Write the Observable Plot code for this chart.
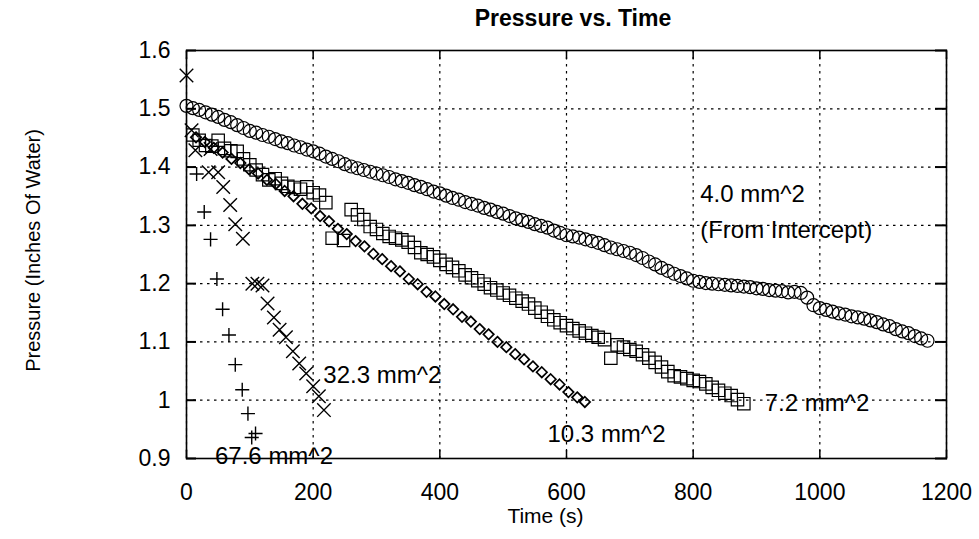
<!DOCTYPE html>
<html><head><meta charset="utf-8">
<script src="https://cdn.jsdelivr.net/npm/d3@7"></script>
<script src="https://cdn.jsdelivr.net/npm/@observablehq/plot@0.6"></script>
<style>
body{margin:0;background:#fff;}
#wrap{position:relative;width:979px;height:539px;}
#title{position:absolute;left:423px;top:4px;width:300px;text-align:center;font:bold 23px 'Liberation Sans',Arial,sans-serif;line-height:28px;color:#000;}
#chart [aria-label$="tick label"] text{font-size:23px !important;}
</style></head><body>
<div id="wrap"><div id="chart"></div><div id="title">Pressure vs. Time</div></div>
<script>
// tick values / labels
const xTicks = [0, 200, 400, 600, 800, 1000, 1200];
const yTicks = [0.9, 1.0, 1.1, 1.2, 1.3, 1.4, 1.5, 1.6];
const yTickLabels = ["0.9", "1", "1.1", "1.2", "1.3", "1.4", "1.5", "1.6"];

// 4.0 mm^2 (circles)
const circleT = [0,10,20,30,40,50,60,70,80,90,100,110,120,130,140,150,160,170,180,190,200,210,220,230,240,250,260,270,280,290,300,310,320,330,340,350,360,370,380,390,400,410,420,430,440,450,460,470,480,490,500,510,520,530,540,550,560,570,580,590,600,610,620,630,640,650,660,670,680,690,700,710,720,730,740,750,760,770,780,790,800,810,820,830,840,850,860,870,880,890,900,910,920,930,940,950,960,970,980,990,1000,1010,1020,1030,1040,1050,1060,1070,1080,1090,1100,1110,1120,1130,1140,1150,1160,1170];
const circleP = [1.505,1.501,1.498,1.494,1.490,1.486,1.481,1.477,1.472,1.467,1.462,1.459,1.455,1.452,1.448,1.444,1.441,1.437,1.434,1.430,1.427,1.423,1.418,1.414,1.410,1.405,1.401,1.398,1.395,1.392,1.389,1.386,1.383,1.379,1.376,1.373,1.369,1.366,1.362,1.358,1.355,1.351,1.347,1.344,1.340,1.337,1.334,1.330,1.327,1.323,1.320,1.316,1.312,1.309,1.306,1.302,1.299,1.296,1.291,1.287,1.283,1.281,1.279,1.276,1.273,1.270,1.266,1.262,1.259,1.256,1.253,1.249,1.244,1.238,1.233,1.227,1.222,1.217,1.213,1.209,1.205,1.203,1.201,1.200,1.199,1.198,1.197,1.196,1.195,1.194,1.192,1.191,1.189,1.188,1.187,1.185,1.186,1.184,1.176,1.163,1.158,1.155,1.152,1.149,1.147,1.144,1.142,1.140,1.137,1.134,1.130,1.127,1.122,1.118,1.115,1.110,1.106,1.102];

// 7.2 mm^2 (squares)
const squareT = [10,20,30,40,50,60,70,80,90,100,110,120,130,140,150,160,170,180,190,200,210,220,230,248,260,270,280,290,300,310,320,330,340,350,360,370,380,390,400,410,420,430,440,450,460,470,480,490,500,510,520,530,540,550,560,570,580,590,600,610,620,630,640,650,660,670,680,690,700,710,720,730,740,750,760,770,780,790,800,810,820,830,840,850,860,870,880];
const squareP = [1.455,1.446,1.437,1.436,1.446,1.432,1.428,1.427,1.414,1.404,1.395,1.387,1.378,1.380,1.372,1.367,1.365,1.362,1.366,1.356,1.352,1.339,1.278,1.274,1.327,1.318,1.310,1.298,1.293,1.286,1.281,1.278,1.275,1.271,1.262,1.253,1.250,1.246,1.240,1.233,1.228,1.222,1.215,1.210,1.205,1.199,1.193,1.189,1.184,1.180,1.175,1.170,1.165,1.158,1.151,1.144,1.138,1.133,1.128,1.123,1.119,1.115,1.111,1.108,1.104,1.072,1.095,1.091,1.087,1.084,1.078,1.072,1.065,1.057,1.049,1.042,1.040,1.037,1.034,1.032,1.028,1.022,1.017,1.012,1.008,1.001,0.994];

// 10.3 mm^2 (diamonds)
const diamondT = [15,29,43,57,71,85,99,113,127,141,155,169,183,197,211,225,239,253,267,281,295,309,323,337,351,365,379,393,407,421,435,449,463,477,491,505,519,533,547,561,575,589,603,617,629];
const diamondP = [1.451,1.443,1.433,1.425,1.414,1.407,1.396,1.389,1.378,1.371,1.359,1.350,1.337,1.329,1.316,1.307,1.294,1.285,1.273,1.264,1.251,1.242,1.230,1.221,1.208,1.199,1.186,1.178,1.165,1.156,1.143,1.135,1.122,1.113,1.100,1.091,1.079,1.070,1.058,1.048,1.036,1.027,1.014,1.005,0.997];

// 32.3 mm^2 (x marks)
const timesT = [0,8,14,35,38,50,58,69,77,89,104,112,120,128,138,147,157,168,178,189,200,209,217];
const timesP = [1.557,1.463,1.429,1.391,1.431,1.391,1.366,1.335,1.302,1.277,1.200,1.200,1.197,1.166,1.142,1.121,1.108,1.084,1.063,1.046,1.024,1.007,0.983];

// 67.6 mm^2 (plus marks)
const plusT = [16,28,38,48,57,67,77,88,97,103,109];
const plusP = [1.388,1.323,1.276,1.208,1.156,1.112,1.061,1.018,0.977,0.936,0.943];

// curve labels
const labelText = ["4.0 mm^2", "(From Intercept)", "7.2 mm^2", "10.3 mm^2", "32.3 mm^2", "67.6 mm^2"];
const labelT = [811, 811, 913, 570, 216, 45];
const labelP = [1.354, 1.292, 0.995, 0.941, 1.043, 0.904];

const rows = (T, P) => T.map((t, i) => ({t, p: P[i]}));
const labels = labelText.map((s, i) => ({label: s, t: labelT[i], p: labelP[i]}));
const font = "'Liberation Sans', Arial, Helvetica, sans-serif";
const ink = "#000";

const chart = Plot.plot({
  width: 979, height: 539,
  marginLeft: 186, marginRight: 33, marginTop: 50, marginBottom: 81,
  style: {fontFamily: font, fontSize: "22px", color: ink, background: "#fff", overflow: "visible"},
  x: {domain: [0, 1200]},
  y: {domain: [0.9, 1.6]},
  marks: [
    Plot.gridX(xTicks, {stroke: ink, strokeOpacity: 1, strokeDasharray: "2.5,4.5", strokeWidth: 1.2}),
    Plot.gridY(yTicks, {stroke: ink, strokeOpacity: 1, strokeDasharray: "2.5,4.5", strokeWidth: 1.2}),
    Plot.frame({stroke: ink, strokeWidth: 1.6}),
    Plot.axisX(xTicks, {anchor: "bottom", tickSize: 0, tickPadding: 25, fontSize: 23, tickFormat: d => String(d), label: null}),
    Plot.axisX(xTicks, {anchor: "bottom", tickSize: -8, tickFormat: () => "", label: null, strokeWidth: 1.5}),
    Plot.axisX(xTicks, {anchor: "top", tickSize: -8, tickFormat: () => "", label: null, strokeWidth: 1.5}),
    Plot.axisY(yTicks, {anchor: "left", tickSize: 0, tickPadding: 16, fontSize: 23, tickFormat: d => yTickLabels[yTicks.indexOf(d)], label: null}),
    Plot.axisY(yTicks, {anchor: "left", tickSize: -10, tickFormat: () => "", label: null, strokeWidth: 2}),
    Plot.axisY(yTicks, {anchor: "right", tickSize: -12, tickFormat: () => "", label: null, strokeWidth: 2}),
    Plot.dot(rows(circleT, circleP), {x: "t", y: "p", r: 6.5, stroke: ink, strokeWidth: 1.2, fill: "none"}),
    Plot.dot(rows(squareT, squareP), {x: "t", y: "p", symbol: "square", r: 7, stroke: ink, strokeWidth: 1.2, fill: "none"}),
    Plot.dot(rows(diamondT, diamondP), {x: "t", y: "p", symbol: "diamond2", r: 4.7, stroke: ink, strokeWidth: 1.7, fill: "none"}),
    Plot.dot(rows(timesT, timesP), {x: "t", y: "p", symbol: "times", r: 6.2, stroke: ink, strokeWidth: 1.4, fill: "none"}),
    Plot.dot(rows(plusT, plusP), {x: "t", y: "p", symbol: "plus", r: 4.6, stroke: ink, strokeWidth: 1.4, fill: "none"}),
    Plot.text(labels, {x: "t", y: "p", text: "label", textAnchor: "start", fontSize: 24, fill: ink}),
    Plot.text(["Time (s)"], {frameAnchor: "bottom", dx: -21, dy: 64, fontSize: 21, fill: ink}),
    Plot.text(["Pressure (Inches Of Water)"], {frameAnchor: "left", textAnchor: "middle", rotate: -90, dx: -153, dy: -4, fontSize: 20, fill: ink})
  ]
});
document.getElementById("chart").appendChild(chart);
</script>
</body></html>
